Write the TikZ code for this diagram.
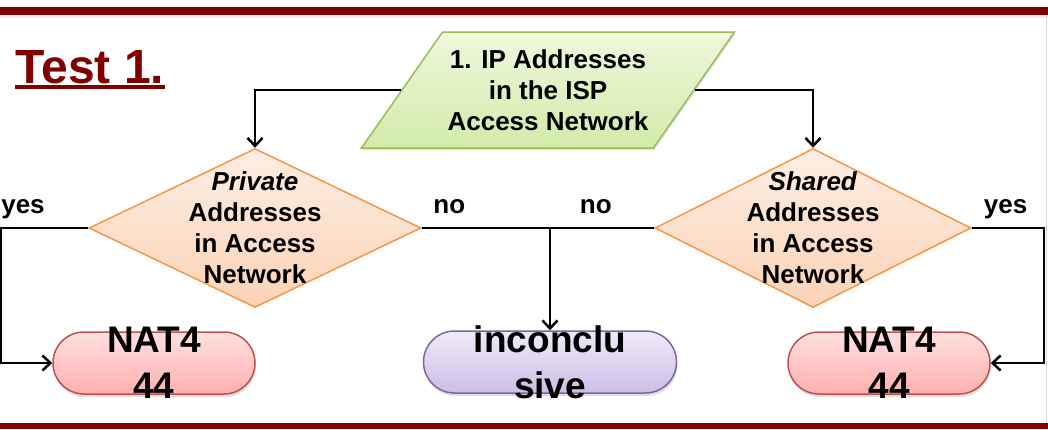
\documentclass[tikz,border=0pt]{standalone}
\usepackage{fontspec}
\setmainfont{Liberation Sans}
\usepackage{xcolor}
\usepackage{tikz}
\usetikzlibrary{shapes.geometric, arrows.meta, positioning, calc, shadows}

\definecolor{titlered}{HTML}{800000}
\definecolor{iogreen}{HTML}{9BBB59}
\definecolor{iotop}{HTML}{EEF8DC}
\definecolor{iobot}{HTML}{D2EBAA}
\definecolor{decorange}{HTML}{F79646}
\definecolor{dectop}{HTML}{FDEEE4}
\definecolor{decbot}{HTML}{FBD3B5}
\definecolor{natred}{HTML}{C0504D}
\definecolor{nattop}{HTML}{FFE0E0}
\definecolor{natbot}{HTML}{FFAFAF}
\definecolor{undecpurple}{HTML}{8064A2}
\definecolor{undectop}{HTML}{EFEAF8}
\definecolor{undecbot}{HTML}{CDBDE6}

\begin{document}
\begin{tikzpicture}[x=1pt, y=-1pt, line width=1.5pt,
    >={Straight Barb[length=8pt, width=15pt, line width=2.5pt]},
    boxtext/.style={font=\fontsize{26}{31}\selectfont\bfseries, align=center},
    pilltext/.style={font=\fontsize{37}{46}\selectfont\bfseries, align=center},
    io/.style={trapezium, trapezium left angle=45, trapezium right angle=135, trapezium stretches body=true, draw=iogreen, top color=iotop, bottom color=iobot, minimum width=373pt, minimum height=116pt, inner sep=0pt, boxtext, drop shadow={opacity=0.2, shadow xshift=1pt, shadow yshift=-2pt}},
    decision/.style={diamond, draw=decorange, top color=dectop, bottom color=decbot, minimum height=159pt, inner sep=0pt},
    terminal/.style={rectangle, rounded corners=31pt, minimum height=62pt, inner sep=0pt, drop shadow={opacity=0.25, shadow xshift=1pt, shadow yshift=-3pt}},
    nat/.style={terminal, draw=natred, top color=nattop, bottom color=natbot, minimum width=202pt},
    answer/.style={font=\fontsize{26}{31}\selectfont\bfseries, text depth=6pt, inner sep=2pt},
    flow/.style={line width=2pt}]
    \useasboundingbox (0,0) rectangle (1048,429);

    % Frame
    \fill[black!8] (0,15) rectangle (1048,18);
    \fill[titlered] (0,7) rectangle (1048,15);
    \fill[titlered] (0,423) rectangle (1048,429);
    \draw[black!15, line width=1pt] (1046,15) -- (1046,423);

    % Nodes
    \node (title) [anchor=base west, inner sep=0pt, text=titlered, font=\fontsize{48}{52}\selectfont\bfseries] at (15,83) {Test 1.};
    \draw[titlered, line width=4pt] ([yshift=-4pt]title.base west) -- ([yshift=-4pt]title.base east);
    \node (isp) [io] at (548,90) {1. IP Addresses\\in the ISP\\Access Network};
    \node (privd) [decision, minimum width=332pt, label={[boxtext]center:{\textit{Private}\\Addresses\\in Access\\Network}}] at (255,228) {};
    \node (shrd) [decision, minimum width=316pt, label={[boxtext]center:{\textit{Shared}\\Addresses\\in Access\\Network}}] at (813,228) {};
    \node (nat1) [nat, label={[pilltext]center:{NAT4\\44}}] at (154,363) {};
    \node (nat2) [nat, label={[pilltext]center:{NAT4\\44}}] at (889,363) {};
    \node (inconc) [terminal, draw=undecpurple, top color=undectop, bottom color=undecbot, minimum width=253pt, label={[pilltext]center:{inconclu\\sive}}] at (550,362) {};

    % Flows
    \draw[flow, ->] (isp.west) -| (privd.north);
    \draw[flow, ->] (isp.east) -| (shrd.north);
    \draw[flow, ->] (privd.west) -- node[answer, above=6pt, pos=0.75] {yes} ++(-87,0) |- (nat1.west);
    \coordinate (join) at (inconc.north |- privd.east);
    \draw[flow, ->] (privd.east) -- node[answer, above=6pt, pos=0.215] {no} (join) -- (inconc.north);
    \draw[flow] (shrd.west) -- node[answer, above=6pt, pos=0.56] {no} (join);
    \draw[flow, ->] (shrd.east) -- node[answer, above=6pt, pos=0.47] {yes} ++(72,0) |- (nat2.east);

\end{tikzpicture}
\end{document}
